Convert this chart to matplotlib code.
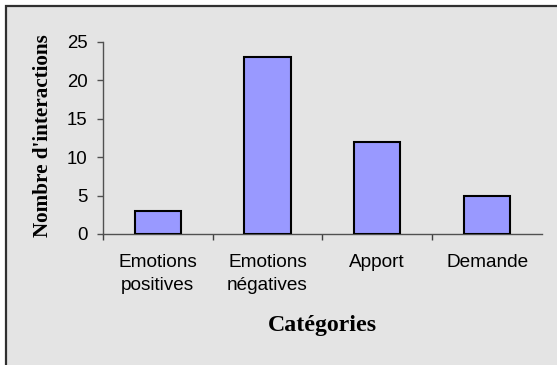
#!/usr/bin/env python3
"""Bar chart: number of interactions per category."""

import matplotlib

matplotlib.use("Agg")
import matplotlib.pyplot as plt
from matplotlib.patches import Rectangle

categories = ["Emotions\npositives", "Emotions\nnégatives", "Apport", "Demande"]
interactions = [3, 23, 12, 5]
y_ticks = [0, 5, 10, 15, 20, 25]

W, H = 557, 365
DPI = 100

fig = plt.figure(figsize=(W / DPI, H / DPI), dpi=DPI, facecolor="white")

# chart area frame (only top/left edges fall inside the image)
frame = Rectangle((6 / W, -0.1), 1.2, (H - 6) / H + 0.1, transform=fig.transFigure,
                  facecolor="#e4e4e4", edgecolor="#303030", linewidth=1.6, zorder=-10)
fig.add_artist(frame)

ax = fig.add_axes([102.7 / W, (H - 234) / H, (542 - 102.7) / W, (234 - 42) / H])
ax.set_facecolor("none")

x = range(len(categories))
ax.bar(x, interactions, width=0.42, color="#9999ff", edgecolor="black", linewidth=1.5, zorder=3)

ax.set_xlim(-0.5, len(categories) - 0.5)
ax.set_ylim(0, 25)
ax.set_yticks(y_ticks)

for side in ("top", "right"):
    ax.spines[side].set_visible(False)
for side in ("left", "bottom"):
    ax.spines[side].set_color("#505050")
    ax.spines[side].set_linewidth(1.0)

ax.tick_params(axis="y", direction="out", length=4.3, width=1, color="#505050",
               labelsize=13.4, pad=6.5)
ax.set_yticklabels([str(v) for v in y_ticks], family="Liberation Sans")

# category labels sit between the tick marks
ax.set_xticks([i + 0.5 for i in range(len(categories) - 1)] + [-0.5])
ax.tick_params(axis="x", direction="out", length=4.5, width=1, color="#404040", labelbottom=False)
for i, lab in enumerate(categories):
    ax.text(i, -2.6, lab, ha="center", va="top", fontsize=13.7, family="Liberation Sans",
            linespacing=1.5)

fig.text(322 / W, 1 - 326 / H, "Catégories", ha="center", va="center",
         fontsize=17.2, fontweight="bold", family="Liberation Serif")
fig.text(43 / W, 1 - 136 / H, "Nombre d'interactions", ha="center", va="center",
         rotation=90, fontsize=15.2, fontweight="bold", family="Liberation Serif")

fig.savefig("out.png", dpi=DPI, facecolor="white")
